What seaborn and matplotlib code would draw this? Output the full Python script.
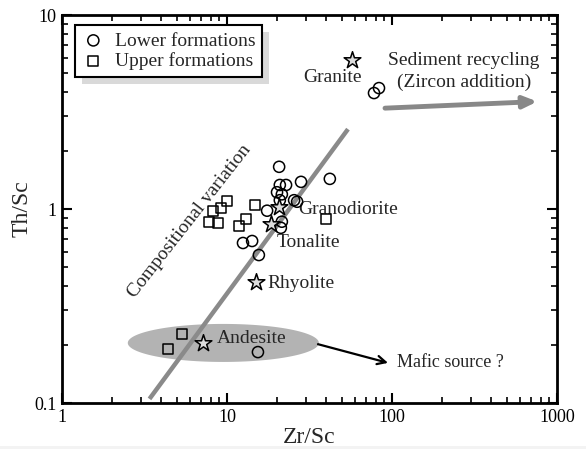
import numpy as np
import pandas as pd
import matplotlib
matplotlib.use("Agg")
import matplotlib.pyplot as plt
from matplotlib.patches import Rectangle
from matplotlib.ticker import FixedLocator, NullFormatter
import seaborn as sns

# ---------------- data ----------------
lower_zr_sc = [83.4, 77.8, 42.0, 20.7, 28.1, 20.9, 22.8, 20.1, 21.5, 20.9,
               25.5, 26.6, 17.5, 21.5, 21.2, 12.5, 14.2, 15.6, 15.4]
lower_th_sc = [4.20, 3.96, 1.43, 1.65, 1.38, 1.33, 1.33, 1.22, 1.19, 1.11,
               1.11, 1.09, 0.98, 0.86, 0.80, 0.668, 0.684, 0.579, 0.183]

upper_zr_sc = [10.0, 9.2, 8.2, 7.8, 8.8, 14.8, 13.0, 11.8, 39.8, 5.34, 4.39]
upper_th_sc = [1.10, 1.01, 0.98, 0.86, 0.85, 1.05, 0.89, 0.82, 0.89, 0.227, 0.190]

rock_names = ["Granite", "Granodiorite", "Tonalite", "Rhyolite", "Andesite"]
rock_zr_sc = [57.2, 20.6, 18.5, 15.0, 7.16]
rock_th_sc = [5.86, 1.02, 0.837, 0.42, 0.204]

# compositional-variation trend line (end points)
trend_zr_sc = [3.39, 54.1]
trend_th_sc = [0.105, 2.58]

x_ticks = [1, 10, 100, 1000]
x_ticklabels = ["1", "10", "100", "1000"]
y_ticks = [0.1, 1, 10]
y_ticklabels = ["0.1", "1", "10"]

# ---------------- style ----------------
sns.set_style("ticks")
plt.rcParams["font.family"] = ["Liberation Serif", "DejaVu Serif"]

fig = plt.figure(figsize=(5.86, 4.49), dpi=100)
fig.patches.append(Rectangle((0, 0), 1, 3 / 449, transform=fig.transFigure,
                             facecolor="#f3f3f3", edgecolor="none"))
ax = fig.add_axes([62 / 586, 1 - 403 / 449, (557 - 62) / 586, (403 - 15) / 449])
ax.set_xscale("log")
ax.set_yscale("log")
ax.set_xlim(1, 1000)
ax.set_ylim(0.1, 10)

# andesite field (ellipse in log space)
t = np.linspace(0, 2 * np.pi, 200)
ex = 10 ** (np.log10(9.5) + 0.579 * np.cos(t))
ey = 10 ** (np.log10(0.204) + 0.098 * np.sin(t))
ax.fill(ex, ey, color="#b3b3b3", lw=0, zorder=1)

# trend line
sns.lineplot(x=trend_zr_sc, y=trend_th_sc, color="#8a8a8a", lw=3.2, ax=ax,
             zorder=2, solid_capstyle="butt")

# data
sns.scatterplot(x=lower_zr_sc, y=lower_th_sc, marker="o", s=64,
                facecolor="none", edgecolor="black", linewidth=1.1,
                label="Lower formations", ax=ax, zorder=4)
sns.scatterplot(x=upper_zr_sc, y=upper_th_sc, marker="s", s=52,
                facecolor="none", edgecolor="black", linewidth=1.1,
                label="Upper formations", ax=ax, zorder=4)
sns.scatterplot(x=rock_zr_sc, y=rock_th_sc, marker="*", s=160,
                facecolor="#dcdcdc", edgecolor="black", linewidth=1.1,
                ax=ax, zorder=5, legend=False)

fs = 14
# rock labels
ax.text(43.3, 4.79, "Granite", ha="center", va="center", fontsize=fs)
ax.text(26.9, 1.00, "Granodiorite", ha="left", va="center", fontsize=fs)
ax.text(20.1, 0.668, "Tonalite", ha="left", va="center", fontsize=fs)
ax.text(17.5, 0.415, "Rhyolite", ha="left", va="center", fontsize=fs)
ax.text(8.7, 0.214, "Andesite", ha="left", va="center", fontsize=fs)

ax.text(273, 5.86, "Sediment recycling", ha="center", va="center", fontsize=fs)
ax.text(273, 4.51, "(Zircon addition)", ha="center", va="center", fontsize=fs)
ax.text(107, 0.161, "Mafic source ?", ha="left", va="center", fontsize=13)
ax.text(5.9, 0.86, "Compositional variation", ha="center", va="center",
        fontsize=fs, rotation=52, rotation_mode="anchor")

# arrows
ax.annotate("", xy=(760, 3.58), xytext=(90.7, 3.31),
            arrowprops=dict(arrowstyle="-|>,head_length=0.8,head_width=0.35",
                            color="#888888", lw=3.5, shrinkA=0, shrinkB=0))
ax.annotate("", xy=(94.6, 0.161), xytext=(35.6, 0.201),
            arrowprops=dict(arrowstyle="->,head_length=0.6,head_width=0.3",
                            color="black", lw=1.6, shrinkA=0, shrinkB=0))

# axes styling
for sp in ax.spines.values():
    sp.set_visible(True)
    sp.set_linewidth(2)
    sp.set_color("black")
ax.xaxis.set_major_locator(FixedLocator(x_ticks))
ax.set_xticklabels(x_ticklabels)
ax.yaxis.set_major_locator(FixedLocator(y_ticks))
ax.set_yticklabels(y_ticklabels)
ax.xaxis.set_minor_formatter(NullFormatter())
ax.yaxis.set_minor_formatter(NullFormatter())
ax.tick_params(which="both", direction="in", top=True, right=True,
               labelsize=13, colors="black", pad=4)
ax.tick_params(which="major", length=7, width=1.5)
ax.tick_params(which="minor", length=4, width=1.2)
ax.set_xlabel("Zr/Sc", fontsize=17, labelpad=1)
ax.set_ylabel("Th/Sc", fontsize=17)
ax.yaxis.set_label_coords(-0.06, 0.5)

leg = ax.legend(loc="upper left", bbox_to_anchor=(0.026, 0.974),
                borderaxespad=0, frameon=True, fancybox=False, fontsize=fs,
                labelspacing=0.15, handletextpad=0.5, borderpad=0.35,
                handlelength=1.2)
leg.get_frame().set_edgecolor("black")
leg.get_frame().set_linewidth(1.5)
leg.get_frame().set_alpha(1)
leg.set_zorder(10)

fig.canvas.draw()
bb = leg.get_window_extent()
shadow = Rectangle((bb.x0 + 7, bb.y0 - 7), bb.width, bb.height,
                   transform=None, facecolor="#d9d9d9", edgecolor="none",
                   zorder=9)
ax.add_artist(shadow)

fig.savefig("out.png", dpi=100)
